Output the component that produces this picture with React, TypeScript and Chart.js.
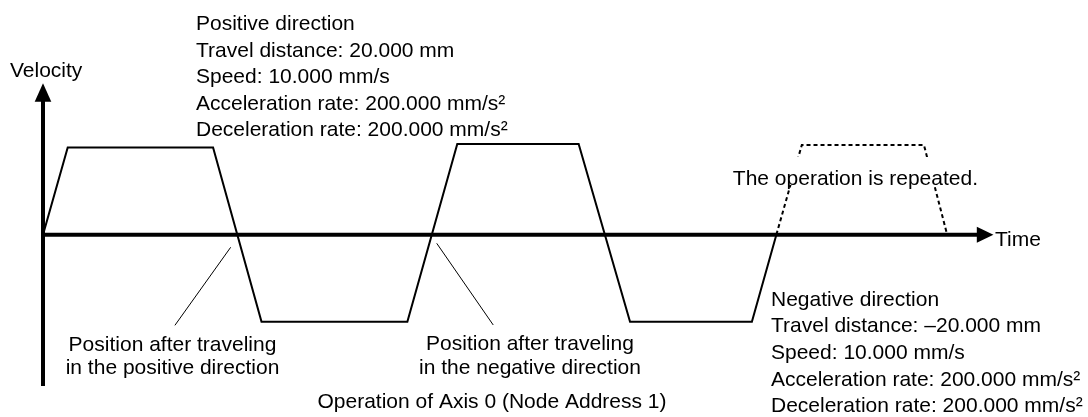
import React, { useEffect, useRef } from "react";
import { Chart, registerables } from "chart.js";

Chart.register(...registerables);

// Velocity profile (time in ramp units, velocity in mm/s)
const PROFILE_T = [0, 1.01, 6.95, 8.93, 14.89, 16.93, 21.89, 23.99, 28.97, 29.97];
const PROFILE_V = [0, 9.9, 9.9, -9.9, -9.9, 10.3, 10.3, -9.9, -9.9, 0];
// Repeated operation (dashed)
const REPEAT_T = [29.97, 31.01, 36.0, 36.95];
const REPEAT_V = [0, 10.2, 10.2, 0];
// Leader lines
const LEADER1_T = [7.67, 5.39];
const LEADER1_V = [-1.43, -10.3];
const LEADER2_T = [16.09, 18.4];
const LEADER2_V = [-0.98, -10.26];

// Axis extents
const AXIS_T_MAX = 38.84;
const AXIS_V_MAX = 17.2;
const AXIS_V_MIN = -17.2;

// Texts
const Y_LABEL = "Velocity";
const X_LABEL = "Time";
const POSITIVE_LINES = [
  "Positive direction",
  "Travel distance: 20.000 mm",
  "Speed: 10.000 mm/s",
  "Acceleration rate: 200.000 mm/s\u00b2",
  "Deceleration rate: 200.000 mm/s\u00b2",
];
const NEGATIVE_LINES = [
  "Negative direction",
  "Travel distance: \u201320.000 mm",
  "Speed: 10.000 mm/s",
  "Acceleration rate: 200.000 mm/s\u00b2",
  "Deceleration rate: 200.000 mm/s\u00b2",
];
const LEADER1_LINES = ["Position after traveling", "in the positive direction"];
const LEADER2_LINES = ["Position after traveling", "in the negative direction"];
const REPEAT_LABEL = "The operation is repeated.";
const TITLE = "Operation of Axis 0 (Node Address 1)";

const W = 1088;
const H = 417;
const FONT = '21px "Liberation Sans", Arial, Helvetica, sans-serif';

const pts = (t: number[], v: number[]) => t.map((x, i) => ({ x, y: v[i] }));

const diagramPlugin = {
  id: "diagram",
  beforeDatasetsDraw(chart: any) {
    const ctx = chart.ctx;
    const xs = chart.scales.x;
    const ys = chart.scales.y;
    const x0 = xs.getPixelForValue(0);
    const y0 = ys.getPixelForValue(0);
    const yTop = ys.getPixelForValue(AXIS_V_MAX);
    const yBot = ys.getPixelForValue(AXIS_V_MIN);
    const xEnd = xs.getPixelForValue(AXIS_T_MAX);
    ctx.save();
    ctx.strokeStyle = "#000";
    ctx.fillStyle = "#000";
    ctx.lineWidth = 4;
    ctx.lineCap = "butt";
    // vertical axis
    ctx.beginPath();
    ctx.moveTo(x0, yBot);
    ctx.lineTo(x0, yTop + 16);
    ctx.stroke();
    ctx.beginPath();
    ctx.moveTo(x0, yTop);
    ctx.lineTo(x0 - 8.3, yTop + 18.4);
    ctx.lineTo(x0 + 8.3, yTop + 18.4);
    ctx.closePath();
    ctx.fill();
    // horizontal axis
    ctx.beginPath();
    ctx.moveTo(x0 - 2, y0);
    ctx.lineTo(xEnd - 15, y0);
    ctx.stroke();
    ctx.beginPath();
    ctx.moveTo(xEnd, y0);
    ctx.lineTo(xEnd - 16.6, y0 - 8);
    ctx.lineTo(xEnd - 16.6, y0 + 8);
    ctx.closePath();
    ctx.fill();
    ctx.restore();
  },
  afterDatasetsDraw(chart: any) {
    const ctx = chart.ctx;
    ctx.save();
    ctx.font = FONT;
    ctx.fillStyle = "#000";
    ctx.textBaseline = "alphabetic";
    ctx.textAlign = "left";
    ctx.fillText(Y_LABEL, 10, 77);
    ctx.fillText(X_LABEL, 995, 246);
    POSITIVE_LINES.forEach((s, i) => ctx.fillText(s, 196, 30 + i * 26.6));
    NEGATIVE_LINES.forEach((s, i) => ctx.fillText(s, 771, 305.7 + i * 26.6));
    // repeated label with white background
    const rw = ctx.measureText(REPEAT_LABEL).width;
    const rx = 978 - rw;
    ctx.fillStyle = "#fff";
    ctx.fillRect(rx - 2, 157, rw + 4, 28);
    ctx.fillStyle = "#000";
    ctx.fillText(REPEAT_LABEL, rx, 184.5);
    ctx.textAlign = "center";
    LEADER1_LINES.forEach((s, i) => ctx.fillText(s, 172.5, 350.7 + i * 23.6));
    LEADER2_LINES.forEach((s, i) => ctx.fillText(s, 530, 350.2 + i * 23.4));
    ctx.fillText(TITLE, 492, 408.3);
    ctx.restore();
  },
};

export default function App() {
  const ref = useRef<HTMLCanvasElement | null>(null);
  useEffect(() => {
    document.body.style.margin = "0";
    const canvas = ref.current;
    if (!canvas) return;
    const pxPerT = 24.47;
    const pxPerV = 8.8;
    const ox = 43;
    const oy = 234.7;
    const chart = new Chart(canvas, {
      type: "line",
      data: {
        datasets: [
          {
            data: pts(PROFILE_T, PROFILE_V),
            borderColor: "#000",
            borderWidth: 2,
            pointRadius: 0,
            tension: 0,
            fill: false,
            borderJoinStyle: "miter",
          },
          {
            data: pts(REPEAT_T, REPEAT_V),
            borderColor: "#000",
            borderWidth: 2,
            borderDash: [4, 3],
            pointRadius: 0,
            tension: 0,
            fill: false,
            borderJoinStyle: "miter",
          },
          {
            data: pts(LEADER1_T, LEADER1_V),
            borderColor: "#000",
            borderWidth: 1,
            pointRadius: 0,
            fill: false,
          },
          {
            data: pts(LEADER2_T, LEADER2_V),
            borderColor: "#000",
            borderWidth: 1,
            pointRadius: 0,
            fill: false,
          },
        ],
      } as any,
      options: {
        responsive: false,
        animation: false,
        events: [],
        layout: { padding: 0 },
        plugins: {
          legend: { display: false },
          tooltip: { enabled: false },
          title: { display: false },
        },
        scales: {
          x: {
            type: "linear",
            display: false,
            min: -ox / pxPerT,
            max: (W - ox) / pxPerT,
          },
          y: {
            type: "linear",
            display: false,
            min: -(H - oy) / pxPerV,
            max: oy / pxPerV,
          },
        },
      } as any,
      plugins: [diagramPlugin],
    });
    return () => chart.destroy();
  }, []);
  return (
    <canvas
      ref={ref}
      width={W}
      height={H}
      style={{ display: "block", width: W, height: H }}
    />
  );
}
